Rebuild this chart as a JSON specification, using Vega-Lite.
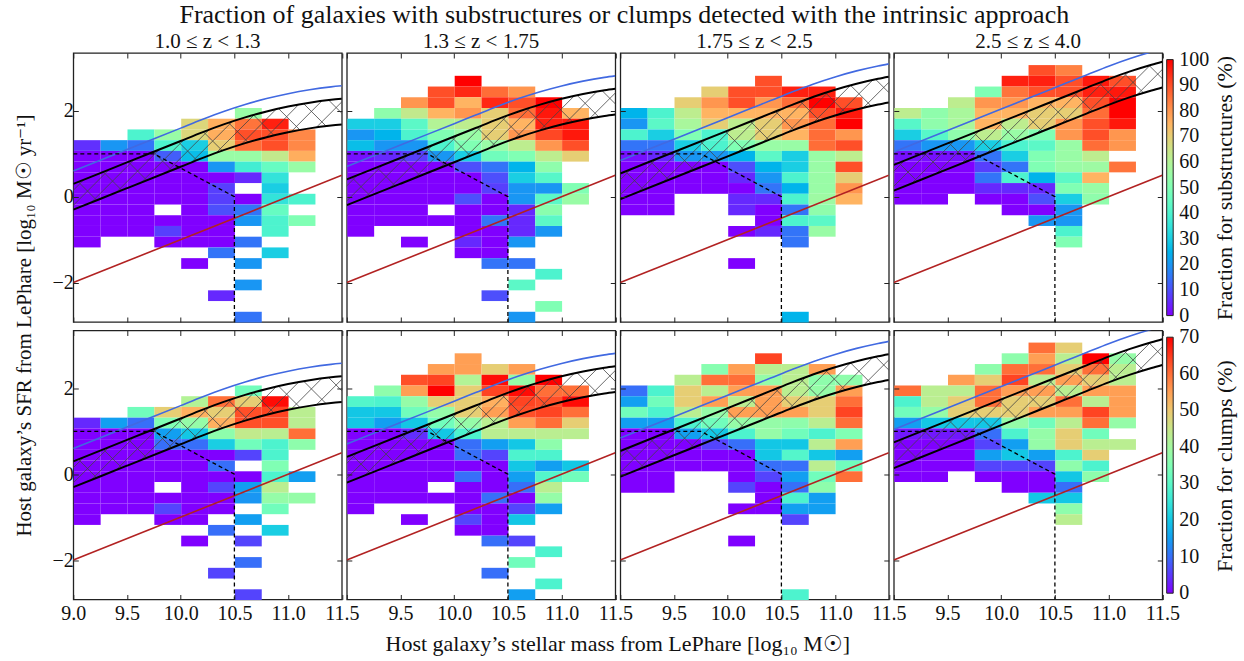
{
"$schema": "https://vega.github.io/schema/vega-lite/v6.json",
"background": "white",
"padding": {"left": 12.3, "top": 2, "right": 5, "bottom": 5},
"title": {"text": "Fraction of galaxies with substructures or clumps detected with the intrinsic approach", "fontSize": 26, "font": "Liberation Serif", "fontWeight": "normal", "anchor": "middle", "offset": 1.4, "color": "#111"},
"bounds": "flush",
"columns": 4,
"spacing": {"row": 8.5, "column": 4.5},
"resolve": {"scale": {"color": "independent"}},
"datasets": {
"t1": [
{"m":10.5,"s":1.83,"v":55},
{"m":10,"s":1.58,"v":68},{"m":10.25,"s":1.58,"v":76},{"m":10.5,"s":1.58,"v":85},{"m":10.75,"s":1.58,"v":96},
{"m":9.5,"s":1.33,"v":40},{"m":9.75,"s":1.33,"v":55},{"m":10,"s":1.33,"v":68},{"m":10.25,"s":1.33,"v":76},{"m":10.5,"s":1.33,"v":90},{"m":10.75,"s":1.33,"v":90},{"m":11,"s":1.33,"v":82},
{"m":9,"s":1.08,"v":6},{"m":9.25,"s":1.08,"v":20},{"m":9.5,"s":1.08,"v":15},{"m":9.75,"s":1.08,"v":40},{"m":10,"s":1.08,"v":30},{"m":10.25,"s":1.08,"v":70},{"m":10.5,"s":1.08,"v":86},{"m":10.75,"s":1.08,"v":90},{"m":11,"s":1.08,"v":82},
{"m":9,"s":0.83,"v":0},{"m":9.25,"s":0.83,"v":0},{"m":9.5,"s":0.83,"v":0},{"m":9.75,"s":0.83,"v":12},{"m":10,"s":0.83,"v":27},{"m":10.25,"s":0.83,"v":55},{"m":10.5,"s":0.83,"v":55},{"m":10.75,"s":0.83,"v":63},{"m":11,"s":0.83,"v":76},
{"m":9,"s":0.58,"v":0},{"m":9.25,"s":0.58,"v":0},{"m":9.5,"s":0.58,"v":0},{"m":9.75,"s":0.58,"v":0},{"m":10,"s":0.58,"v":0},{"m":10.25,"s":0.58,"v":20},{"m":10.5,"s":0.58,"v":38},{"m":10.75,"s":0.58,"v":45},{"m":11,"s":0.58,"v":55},
{"m":9,"s":0.33,"v":0},{"m":9.25,"s":0.33,"v":0},{"m":9.5,"s":0.33,"v":0},{"m":9.75,"s":0.33,"v":0},{"m":10,"s":0.33,"v":0},{"m":10.25,"s":0.33,"v":0},{"m":10.5,"s":0.33,"v":5},{"m":10.75,"s":0.33,"v":35},
{"m":9,"s":0.08,"v":0},{"m":9.25,"s":0.08,"v":0},{"m":9.5,"s":0.08,"v":0},{"m":9.75,"s":0.08,"v":0},{"m":10,"s":0.08,"v":0},{"m":10.25,"s":0.08,"v":8},{"m":10.75,"s":0.08,"v":30},
{"m":9,"s":-0.17,"v":0},{"m":9.25,"s":-0.17,"v":0},{"m":9.5,"s":-0.17,"v":0},{"m":9.75,"s":-0.17,"v":0},{"m":10,"s":-0.17,"v":0},{"m":10.25,"s":-0.17,"v":8},{"m":10.5,"s":-0.17,"v":0},{"m":10.75,"s":-0.17,"v":35},{"m":11,"s":-0.17,"v":40},
{"m":9,"s":-0.42,"v":0},{"m":9.25,"s":-0.42,"v":0},{"m":9.5,"s":-0.42,"v":0},{"m":10,"s":-0.42,"v":0},{"m":10.25,"s":-0.42,"v":10},{"m":10.5,"s":-0.42,"v":15},{"m":10.75,"s":-0.42,"v":45},
{"m":9,"s":-0.67,"v":0},{"m":9.25,"s":-0.67,"v":0},{"m":9.5,"s":-0.67,"v":0},{"m":9.75,"s":-0.67,"v":0},{"m":10,"s":-0.67,"v":0},{"m":10.25,"s":-0.67,"v":0},{"m":10.5,"s":-0.67,"v":20},{"m":10.75,"s":-0.67,"v":40},{"m":11,"s":-0.67,"v":50},
{"m":9,"s":-0.92,"v":0},{"m":9.25,"s":-0.92,"v":0},{"m":9.5,"s":-0.92,"v":0},{"m":9.75,"s":-0.92,"v":8},{"m":10,"s":-0.92,"v":0},{"m":10.25,"s":-0.92,"v":0},{"m":10.75,"s":-0.92,"v":40},
{"m":9,"s":-1.17,"v":0},{"m":9.75,"s":-1.17,"v":0},{"m":10,"s":-1.17,"v":0},{"m":10.25,"s":-1.17,"v":0},{"m":10.5,"s":-1.17,"v":15},
{"m":10.25,"s":-1.42,"v":15},{"m":10.75,"s":-1.42,"v":30},
{"m":10,"s":-1.67,"v":0},{"m":10.5,"s":-1.67,"v":20},
{"m":10.5,"s":-2.17,"v":20},
{"m":10.25,"s":-2.42,"v":5},
{"m":10.5,"s":-2.92,"v":15}
],
"t2": [
{"m":10,"s":2.58,"v":100},
{"m":9.75,"s":2.33,"v":90},{"m":10,"s":2.33,"v":95},{"m":10.25,"s":2.33,"v":86},{"m":10.5,"s":2.33,"v":80},
{"m":9.5,"s":2.08,"v":80},{"m":9.75,"s":2.08,"v":90},{"m":10,"s":2.08,"v":75},{"m":10.25,"s":2.08,"v":95},{"m":10.5,"s":2.08,"v":90},{"m":10.75,"s":2.08,"v":100},
{"m":9.25,"s":1.83,"v":53},{"m":9.5,"s":1.83,"v":63},{"m":9.75,"s":1.83,"v":75},{"m":10,"s":1.83,"v":80},{"m":10.25,"s":1.83,"v":70},{"m":10.5,"s":1.83,"v":86},{"m":10.75,"s":1.83,"v":97},{"m":11,"s":1.83,"v":75},
{"m":9,"s":1.58,"v":30},{"m":9.25,"s":1.58,"v":30},{"m":9.5,"s":1.58,"v":43},{"m":9.75,"s":1.58,"v":60},{"m":10,"s":1.58,"v":62},{"m":10.25,"s":1.58,"v":70},{"m":10.5,"s":1.58,"v":75},{"m":10.75,"s":1.58,"v":96},{"m":11,"s":1.58,"v":97},
{"m":9,"s":1.33,"v":20},{"m":9.25,"s":1.33,"v":25},{"m":9.5,"s":1.33,"v":40},{"m":9.75,"s":1.33,"v":50},{"m":10,"s":1.33,"v":55},{"m":10.25,"s":1.33,"v":70},{"m":10.5,"s":1.33,"v":80},{"m":10.75,"s":1.33,"v":91},{"m":11,"s":1.33,"v":97},
{"m":9,"s":1.08,"v":27},{"m":9.25,"s":1.08,"v":20},{"m":9.5,"s":1.08,"v":20},{"m":9.75,"s":1.08,"v":40},{"m":10,"s":1.08,"v":50},{"m":10.25,"s":1.08,"v":55},{"m":10.5,"s":1.08,"v":62},{"m":10.75,"s":1.08,"v":80},{"m":11,"s":1.08,"v":90},
{"m":9,"s":0.83,"v":2},{"m":9.25,"s":0.83,"v":5},{"m":9.5,"s":0.83,"v":8},{"m":9.75,"s":0.83,"v":20},{"m":10,"s":0.83,"v":30},{"m":10.25,"s":0.83,"v":47},{"m":10.5,"s":0.83,"v":50},{"m":10.75,"s":0.83,"v":62},{"m":11,"s":0.83,"v":70},
{"m":9,"s":0.58,"v":0},{"m":9.25,"s":0.58,"v":0},{"m":9.5,"s":0.58,"v":0},{"m":9.75,"s":0.58,"v":0},{"m":10,"s":0.58,"v":10},{"m":10.25,"s":0.58,"v":15},{"m":10.5,"s":0.58,"v":25},{"m":10.75,"s":0.58,"v":53},
{"m":9,"s":0.33,"v":0},{"m":9.25,"s":0.33,"v":0},{"m":9.5,"s":0.33,"v":0},{"m":9.75,"s":0.33,"v":0},{"m":10,"s":0.33,"v":0},{"m":10.25,"s":0.33,"v":10},{"m":10.5,"s":0.33,"v":30},{"m":10.75,"s":0.33,"v":42},
{"m":9,"s":0.08,"v":0},{"m":9.25,"s":0.08,"v":0},{"m":9.5,"s":0.08,"v":0},{"m":9.75,"s":0.08,"v":0},{"m":10,"s":0.08,"v":0},{"m":10.25,"s":0.08,"v":8},{"m":10.5,"s":0.08,"v":20},{"m":10.75,"s":0.08,"v":20},{"m":11,"s":0.08,"v":50},
{"m":9,"s":-0.17,"v":0},{"m":9.25,"s":-0.17,"v":0},{"m":9.5,"s":-0.17,"v":0},{"m":9.75,"s":-0.17,"v":0},{"m":10,"s":-0.17,"v":10},{"m":10.25,"s":-0.17,"v":0},{"m":10.5,"s":-0.17,"v":20},{"m":10.75,"s":-0.17,"v":43},{"m":11,"s":-0.17,"v":55},
{"m":9,"s":-0.42,"v":0},{"m":9.25,"s":-0.42,"v":0},{"m":9.5,"s":-0.42,"v":0},{"m":10,"s":-0.42,"v":0},{"m":10.25,"s":-0.42,"v":0},{"m":10.5,"s":-0.42,"v":5},{"m":10.75,"s":-0.42,"v":52},
{"m":9,"s":-0.67,"v":0},{"m":9.25,"s":-0.67,"v":0},{"m":9.5,"s":-0.67,"v":0},{"m":9.75,"s":-0.67,"v":0},{"m":10,"s":-0.67,"v":0},{"m":10.25,"s":-0.67,"v":15},{"m":10.5,"s":-0.67,"v":5},{"m":10.75,"s":-0.67,"v":43},
{"m":9,"s":-0.92,"v":0},{"m":10,"s":-0.92,"v":0},{"m":10.25,"s":-0.92,"v":0},{"m":10.5,"s":-0.92,"v":5},{"m":10.75,"s":-0.92,"v":20},
{"m":9.5,"s":-1.17,"v":0},{"m":10,"s":-1.17,"v":5},{"m":10.25,"s":-1.17,"v":0},{"m":10.5,"s":-1.17,"v":20},
{"m":10,"s":-1.42,"v":0},{"m":10.25,"s":-1.42,"v":0},
{"m":10.25,"s":-1.67,"v":15},{"m":10.5,"s":-1.67,"v":15},
{"m":10.75,"s":-1.92,"v":40},
{"m":10.5,"s":-2.17,"v":43},
{"m":10.25,"s":-2.42,"v":10},
{"m":10.75,"s":-2.67,"v":50},
{"m":10.5,"s":-2.92,"v":20}
],
"t3": [
{"m":10.25,"s":2.58,"v":90},
{"m":9.75,"s":2.33,"v":70},{"m":10,"s":2.33,"v":90},{"m":10.25,"s":2.33,"v":90},{"m":10.5,"s":2.33,"v":96},{"m":10.75,"s":2.33,"v":96},
{"m":9.5,"s":2.08,"v":70},{"m":9.75,"s":2.08,"v":80},{"m":10,"s":2.08,"v":90},{"m":10.25,"s":2.08,"v":80},{"m":10.5,"s":2.08,"v":86},{"m":10.75,"s":2.08,"v":100},{"m":11,"s":2.08,"v":90},
{"m":9,"s":1.83,"v":25},{"m":9.25,"s":1.83,"v":40},{"m":9.5,"s":1.83,"v":62},{"m":9.75,"s":1.83,"v":75},{"m":10,"s":1.83,"v":75},{"m":10.25,"s":1.83,"v":75},{"m":10.5,"s":1.83,"v":75},{"m":10.75,"s":1.83,"v":90},{"m":11,"s":1.83,"v":97},
{"m":9,"s":1.58,"v":20},{"m":9.25,"s":1.58,"v":43},{"m":9.5,"s":1.58,"v":58},{"m":9.75,"s":1.58,"v":70},{"m":10,"s":1.58,"v":62},{"m":10.25,"s":1.58,"v":70},{"m":10.5,"s":1.58,"v":80},{"m":10.75,"s":1.58,"v":86},{"m":11,"s":1.58,"v":100},
{"m":9,"s":1.33,"v":40},{"m":9.25,"s":1.33,"v":30},{"m":9.5,"s":1.33,"v":50},{"m":9.75,"s":1.33,"v":40},{"m":10,"s":1.33,"v":62},{"m":10.25,"s":1.33,"v":70},{"m":10.5,"s":1.33,"v":75},{"m":10.75,"s":1.33,"v":86},{"m":11,"s":1.33,"v":80},
{"m":9,"s":1.08,"v":15},{"m":9.25,"s":1.08,"v":15},{"m":9.5,"s":1.08,"v":30},{"m":9.75,"s":1.08,"v":40},{"m":10,"s":1.08,"v":50},{"m":10.25,"s":1.08,"v":55},{"m":10.5,"s":1.08,"v":55},{"m":10.75,"s":1.08,"v":86},{"m":11,"s":1.08,"v":90},
{"m":9,"s":0.83,"v":2},{"m":9.25,"s":0.83,"v":5},{"m":9.5,"s":0.83,"v":20},{"m":9.75,"s":0.83,"v":20},{"m":10,"s":0.83,"v":25},{"m":10.25,"s":0.83,"v":43},{"m":10.5,"s":0.83,"v":30},{"m":10.75,"s":0.83,"v":55},{"m":11,"s":0.83,"v":62},
{"m":9,"s":0.58,"v":0},{"m":9.25,"s":0.58,"v":0},{"m":9.5,"s":0.58,"v":0},{"m":9.75,"s":0.58,"v":0},{"m":10,"s":0.58,"v":10},{"m":10.25,"s":0.58,"v":25},{"m":10.5,"s":0.58,"v":30},{"m":10.75,"s":0.58,"v":55},{"m":11,"s":0.58,"v":90},
{"m":9,"s":0.33,"v":0},{"m":9.25,"s":0.33,"v":0},{"m":9.5,"s":0.33,"v":0},{"m":9.75,"s":0.33,"v":0},{"m":10,"s":0.33,"v":5},{"m":10.25,"s":0.33,"v":20},{"m":10.5,"s":0.33,"v":40},{"m":10.75,"s":0.33,"v":55},{"m":11,"s":0.33,"v":70},
{"m":9,"s":0.08,"v":0},{"m":9.25,"s":0.08,"v":0},{"m":9.5,"s":0.08,"v":0},{"m":9.75,"s":0.08,"v":0},{"m":10,"s":0.08,"v":0},{"m":10.25,"s":0.08,"v":15},{"m":10.5,"s":0.08,"v":25},{"m":10.75,"s":0.08,"v":55},{"m":11,"s":0.08,"v":80},
{"m":9,"s":-0.17,"v":0},{"m":9.25,"s":-0.17,"v":0},{"m":10,"s":-0.17,"v":5},{"m":10.25,"s":-0.17,"v":5},{"m":10.5,"s":-0.17,"v":40},{"m":10.75,"s":-0.17,"v":56},{"m":11,"s":-0.17,"v":75},
{"m":9,"s":-0.42,"v":0},{"m":9.25,"s":-0.42,"v":0},{"m":10,"s":-0.42,"v":5},{"m":10.25,"s":-0.42,"v":0},{"m":10.5,"s":-0.42,"v":15},{"m":10.75,"s":-0.42,"v":53},
{"m":10.25,"s":-0.67,"v":0},{"m":10.5,"s":-0.67,"v":40},{"m":10.75,"s":-0.67,"v":43},
{"m":10,"s":-0.92,"v":0},{"m":10.25,"s":-0.92,"v":5},{"m":10.5,"s":-0.92,"v":15},{"m":10.75,"s":-0.92,"v":55},
{"m":10.5,"s":-1.17,"v":15},
{"m":10,"s":-1.67,"v":0},
{"m":10.5,"s":-2.92,"v":25}
],
"t4": [
{"m":10.25,"s":2.83,"v":90},{"m":10.5,"s":2.83,"v":83},
{"m":10,"s":2.58,"v":96},{"m":10.25,"s":2.58,"v":96},{"m":10.5,"s":2.58,"v":90},{"m":10.75,"s":2.58,"v":97},{"m":11,"s":2.58,"v":90},
{"m":9.75,"s":2.33,"v":50},{"m":10,"s":2.33,"v":85},{"m":10.25,"s":2.33,"v":90},{"m":10.5,"s":2.33,"v":90},{"m":10.75,"s":2.33,"v":96},{"m":11,"s":2.33,"v":97},
{"m":9.5,"s":2.08,"v":62},{"m":9.75,"s":2.08,"v":80},{"m":10,"s":2.08,"v":80},{"m":10.25,"s":2.08,"v":75},{"m":10.5,"s":2.08,"v":75},{"m":10.75,"s":2.08,"v":90},{"m":11,"s":2.08,"v":100},
{"m":9,"s":1.83,"v":62},{"m":9.25,"s":1.83,"v":53},{"m":9.5,"s":1.83,"v":58},{"m":9.75,"s":1.83,"v":75},{"m":10,"s":1.83,"v":75},{"m":10.25,"s":1.83,"v":70},{"m":10.5,"s":1.83,"v":70},{"m":10.75,"s":1.83,"v":86},{"m":11,"s":1.83,"v":100},
{"m":9,"s":1.58,"v":42},{"m":9.25,"s":1.58,"v":53},{"m":9.5,"s":1.58,"v":58},{"m":9.75,"s":1.58,"v":75},{"m":10,"s":1.58,"v":62},{"m":10.25,"s":1.58,"v":70},{"m":10.5,"s":1.58,"v":80},{"m":10.75,"s":1.58,"v":90},{"m":11,"s":1.58,"v":97},
{"m":9,"s":1.33,"v":30},{"m":9.25,"s":1.33,"v":42},{"m":9.5,"s":1.33,"v":53},{"m":9.75,"s":1.33,"v":62},{"m":10,"s":1.33,"v":55},{"m":10.25,"s":1.33,"v":50},{"m":10.5,"s":1.33,"v":80},{"m":10.75,"s":1.33,"v":90},{"m":11,"s":1.33,"v":80},
{"m":9,"s":1.08,"v":15},{"m":9.25,"s":1.08,"v":20},{"m":9.5,"s":1.08,"v":20},{"m":9.75,"s":1.08,"v":30},{"m":10,"s":1.08,"v":40},{"m":10.25,"s":1.08,"v":43},{"m":10.5,"s":1.08,"v":55},{"m":10.75,"s":1.08,"v":86},{"m":11,"s":1.08,"v":80},
{"m":9,"s":0.83,"v":2},{"m":9.25,"s":0.83,"v":2},{"m":9.5,"s":0.83,"v":2},{"m":9.75,"s":0.83,"v":15},{"m":10,"s":0.83,"v":30},{"m":10.25,"s":0.83,"v":50},{"m":10.5,"s":0.83,"v":55},{"m":10.75,"s":0.83,"v":62},
{"m":9,"s":0.58,"v":0},{"m":9.25,"s":0.58,"v":0},{"m":9.5,"s":0.58,"v":0},{"m":9.75,"s":0.58,"v":8},{"m":10,"s":0.58,"v":15},{"m":10.25,"s":0.58,"v":50},{"m":10.5,"s":0.58,"v":55},{"m":10.75,"s":0.58,"v":56},{"m":11,"s":0.58,"v":85},
{"m":9,"s":0.33,"v":0},{"m":9.25,"s":0.33,"v":0},{"m":9.5,"s":0.33,"v":0},{"m":9.75,"s":0.33,"v":15},{"m":10,"s":0.33,"v":40},{"m":10.25,"s":0.33,"v":25},{"m":10.5,"s":0.33,"v":43},{"m":10.75,"s":0.33,"v":75},
{"m":9,"s":0.08,"v":0},{"m":9.25,"s":0.08,"v":0},{"m":9.5,"s":0.08,"v":0},{"m":9.75,"s":0.08,"v":5},{"m":10,"s":0.08,"v":5},{"m":10.25,"s":0.08,"v":5},{"m":10.5,"s":0.08,"v":50},{"m":10.75,"s":0.08,"v":55},
{"m":9,"s":-0.17,"v":0},{"m":9.25,"s":-0.17,"v":0},{"m":9.75,"s":-0.17,"v":0},{"m":10,"s":-0.17,"v":0},{"m":10.25,"s":-0.17,"v":10},{"m":10.5,"s":-0.17,"v":30},{"m":10.75,"s":-0.17,"v":53},
{"m":10,"s":-0.42,"v":0},{"m":10.25,"s":-0.42,"v":0},{"m":10.5,"s":-0.42,"v":20},
{"m":10.25,"s":-0.67,"v":20},{"m":10.5,"s":-0.67,"v":20},
{"m":10.5,"s":-0.92,"v":40},
{"m":10.5,"s":-1.17,"v":50}
],
"b1": [
{"m":10.5,"s":1.83,"v":33},
{"m":10,"s":1.58,"v":42},{"m":10.25,"s":1.58,"v":60},{"m":10.5,"s":1.58,"v":49},{"m":10.75,"s":1.58,"v":69},
{"m":9.5,"s":1.33,"v":33},{"m":9.75,"s":1.33,"v":49},{"m":10,"s":1.33,"v":53},{"m":10.25,"s":1.33,"v":49},{"m":10.5,"s":1.33,"v":63},{"m":10.75,"s":1.33,"v":64},{"m":11,"s":1.33,"v":43},
{"m":9,"s":1.08,"v":3.5},{"m":9.25,"s":1.08,"v":15},{"m":9.5,"s":1.08,"v":10},{"m":9.75,"s":1.08,"v":35},{"m":10,"s":1.08,"v":38},{"m":10.25,"s":1.08,"v":53},{"m":10.5,"s":1.08,"v":63},{"m":10.75,"s":1.08,"v":63},{"m":11,"s":1.08,"v":43},
{"m":9,"s":0.83,"v":0},{"m":9.25,"s":0.83,"v":0},{"m":9.5,"s":0.83,"v":0},{"m":9.75,"s":0.83,"v":15},{"m":10,"s":0.83,"v":20},{"m":10.25,"s":0.83,"v":37},{"m":10.5,"s":0.83,"v":44},{"m":10.75,"s":0.83,"v":43},{"m":11,"s":0.83,"v":60},
{"m":9,"s":0.58,"v":0},{"m":9.25,"s":0.58,"v":0},{"m":9.5,"s":0.58,"v":0},{"m":9.75,"s":0.58,"v":10},{"m":10,"s":0.58,"v":10},{"m":10.25,"s":0.58,"v":21},{"m":10.5,"s":0.58,"v":33},{"m":10.75,"s":0.58,"v":28},{"m":11,"s":0.58,"v":37},
{"m":9,"s":0.33,"v":0},{"m":9.25,"s":0.33,"v":0},{"m":9.5,"s":0.33,"v":0},{"m":9.75,"s":0.33,"v":0},{"m":10,"s":0.33,"v":0},{"m":10.25,"s":0.33,"v":0},{"m":10.5,"s":0.33,"v":6},{"m":10.75,"s":0.33,"v":28},
{"m":9,"s":0.08,"v":0},{"m":9.25,"s":0.08,"v":0},{"m":9.5,"s":0.08,"v":0},{"m":9.75,"s":0.08,"v":0},{"m":10,"s":0.08,"v":0},{"m":10.25,"s":0.08,"v":10},{"m":10.75,"s":0.08,"v":35},
{"m":9,"s":-0.17,"v":0},{"m":9.25,"s":-0.17,"v":0},{"m":9.5,"s":-0.17,"v":0},{"m":9.75,"s":-0.17,"v":0},{"m":10,"s":-0.17,"v":0},{"m":10.25,"s":-0.17,"v":0},{"m":10.5,"s":-0.17,"v":0},{"m":10.75,"s":-0.17,"v":28},{"m":11,"s":-0.17,"v":15},
{"m":9,"s":-0.42,"v":0},{"m":9.25,"s":-0.42,"v":0},{"m":9.5,"s":-0.42,"v":0},{"m":10,"s":-0.42,"v":0},{"m":10.25,"s":-0.42,"v":6},{"m":10.5,"s":-0.42,"v":15},{"m":10.75,"s":-0.42,"v":43},
{"m":9,"s":-0.67,"v":0},{"m":9.25,"s":-0.67,"v":0},{"m":9.5,"s":-0.67,"v":0},{"m":9.75,"s":-0.67,"v":0},{"m":10,"s":-0.67,"v":0},{"m":10.25,"s":-0.67,"v":0},{"m":10.5,"s":-0.67,"v":14},{"m":10.75,"s":-0.67,"v":38},{"m":11,"s":-0.67,"v":38},
{"m":9,"s":-0.92,"v":0},{"m":9.25,"s":-0.92,"v":0},{"m":9.5,"s":-0.92,"v":0},{"m":9.75,"s":-0.92,"v":6},{"m":10,"s":-0.92,"v":0},{"m":10.25,"s":-0.92,"v":0},{"m":10.75,"s":-0.92,"v":33},
{"m":9,"s":-1.17,"v":0},{"m":9.75,"s":-1.17,"v":0},{"m":10,"s":-1.17,"v":0},{"m":10.5,"s":-1.17,"v":15},
{"m":10.25,"s":-1.42,"v":10},{"m":10.75,"s":-1.42,"v":21},
{"m":10,"s":-1.67,"v":0},{"m":10.5,"s":-1.67,"v":6},
{"m":10.5,"s":-2.17,"v":10},
{"m":10.25,"s":-2.42,"v":6},
{"m":10.5,"s":-2.92,"v":6}
],
"b2": [
{"m":10,"s":2.58,"v":55},
{"m":9.75,"s":2.33,"v":55},{"m":10,"s":2.33,"v":55},{"m":10.25,"s":2.33,"v":49},{"m":10.5,"s":2.33,"v":55},
{"m":9.5,"s":2.08,"v":63},{"m":9.75,"s":2.08,"v":64},{"m":10,"s":2.08,"v":42},{"m":10.25,"s":2.08,"v":69},{"m":10.5,"s":2.08,"v":38},{"m":10.75,"s":2.08,"v":70},
{"m":9.25,"s":1.83,"v":37},{"m":9.5,"s":1.83,"v":55},{"m":9.75,"s":1.83,"v":70},{"m":10,"s":1.83,"v":49},{"m":10.25,"s":1.83,"v":64},{"m":10.5,"s":1.83,"v":69},{"m":10.75,"s":1.83,"v":60},{"m":11,"s":1.83,"v":60},
{"m":9,"s":1.58,"v":29},{"m":9.25,"s":1.58,"v":28},{"m":9.5,"s":1.58,"v":38},{"m":9.75,"s":1.58,"v":49},{"m":10,"s":1.58,"v":49},{"m":10.25,"s":1.58,"v":53},{"m":10.5,"s":1.58,"v":64},{"m":10.75,"s":1.58,"v":63},{"m":11,"s":1.58,"v":69},
{"m":9,"s":1.33,"v":20},{"m":9.25,"s":1.33,"v":20},{"m":9.5,"s":1.33,"v":33},{"m":9.75,"s":1.33,"v":38},{"m":10,"s":1.33,"v":49},{"m":10.25,"s":1.33,"v":55},{"m":10.5,"s":1.33,"v":63},{"m":10.75,"s":1.33,"v":64},{"m":11,"s":1.33,"v":60},
{"m":9,"s":1.08,"v":20},{"m":9.25,"s":1.08,"v":15},{"m":9.5,"s":1.08,"v":20},{"m":9.75,"s":1.08,"v":33},{"m":10,"s":1.08,"v":38},{"m":10.25,"s":1.08,"v":43},{"m":10.5,"s":1.08,"v":55},{"m":10.75,"s":1.08,"v":60},{"m":11,"s":1.08,"v":49},
{"m":9,"s":0.83,"v":0},{"m":9.25,"s":0.83,"v":0},{"m":9.5,"s":0.83,"v":4},{"m":9.75,"s":0.83,"v":20},{"m":10,"s":0.83,"v":28},{"m":10.25,"s":0.83,"v":43},{"m":10.5,"s":0.83,"v":43},{"m":10.75,"s":0.83,"v":43},{"m":11,"s":0.83,"v":43},
{"m":9,"s":0.58,"v":0},{"m":9.25,"s":0.58,"v":0},{"m":9.5,"s":0.58,"v":0},{"m":9.75,"s":0.58,"v":0},{"m":10,"s":0.58,"v":10},{"m":10.25,"s":0.58,"v":15},{"m":10.5,"s":0.58,"v":20},{"m":10.75,"s":0.58,"v":37},
{"m":9,"s":0.33,"v":0},{"m":9.25,"s":0.33,"v":0},{"m":9.5,"s":0.33,"v":0},{"m":9.75,"s":0.33,"v":0},{"m":10,"s":0.33,"v":10},{"m":10.25,"s":0.33,"v":6},{"m":10.5,"s":0.33,"v":28},{"m":10.75,"s":0.33,"v":28},
{"m":9,"s":0.08,"v":0},{"m":9.25,"s":0.08,"v":0},{"m":9.5,"s":0.08,"v":0},{"m":9.75,"s":0.08,"v":0},{"m":10,"s":0.08,"v":0},{"m":10.25,"s":0.08,"v":0},{"m":10.5,"s":0.08,"v":20},{"m":10.75,"s":0.08,"v":15},{"m":11,"s":0.08,"v":20},
{"m":9,"s":-0.17,"v":0},{"m":9.25,"s":-0.17,"v":0},{"m":9.5,"s":-0.17,"v":0},{"m":9.75,"s":-0.17,"v":0},{"m":10,"s":-0.17,"v":10},{"m":10.25,"s":-0.17,"v":0},{"m":10.5,"s":-0.17,"v":15},{"m":10.75,"s":-0.17,"v":29},{"m":11,"s":-0.17,"v":33},
{"m":9,"s":-0.42,"v":0},{"m":9.25,"s":-0.42,"v":0},{"m":9.5,"s":-0.42,"v":0},{"m":10,"s":-0.42,"v":0},{"m":10.25,"s":-0.42,"v":0},{"m":10.5,"s":-0.42,"v":10},{"m":10.75,"s":-0.42,"v":43},
{"m":9,"s":-0.67,"v":0},{"m":9.25,"s":-0.67,"v":0},{"m":9.5,"s":-0.67,"v":0},{"m":9.75,"s":-0.67,"v":0},{"m":10,"s":-0.67,"v":0},{"m":10.25,"s":-0.67,"v":10},{"m":10.5,"s":-0.67,"v":0},{"m":10.75,"s":-0.67,"v":38},
{"m":9,"s":-0.92,"v":0},{"m":10,"s":-0.92,"v":0},{"m":10.25,"s":-0.92,"v":0},{"m":10.5,"s":-0.92,"v":6},{"m":10.75,"s":-0.92,"v":15},
{"m":9.5,"s":-1.17,"v":0},{"m":10,"s":-1.17,"v":6},{"m":10.25,"s":-1.17,"v":0},{"m":10.5,"s":-1.17,"v":20},
{"m":10,"s":-1.42,"v":0},{"m":10.25,"s":-1.42,"v":0},
{"m":10.25,"s":-1.67,"v":10},{"m":10.5,"s":-1.67,"v":6},
{"m":10.75,"s":-1.92,"v":28},
{"m":10.5,"s":-2.17,"v":33},
{"m":10.25,"s":-2.42,"v":10},
{"m":10.75,"s":-2.67,"v":28},
{"m":10.5,"s":-2.92,"v":15}
],
"b3": [
{"m":10.25,"s":2.58,"v":64},
{"m":9.75,"s":2.33,"v":36},{"m":10,"s":2.33,"v":55},{"m":10.25,"s":2.33,"v":43},{"m":10.5,"s":2.33,"v":43},{"m":10.75,"s":2.33,"v":55},
{"m":9.5,"s":2.08,"v":43},{"m":9.75,"s":2.08,"v":60},{"m":10,"s":2.08,"v":60},{"m":10.25,"s":2.08,"v":38},{"m":10.5,"s":2.08,"v":43},{"m":10.75,"s":2.08,"v":37},{"m":11,"s":2.08,"v":37},
{"m":9,"s":1.83,"v":10},{"m":9.25,"s":1.83,"v":28},{"m":9.5,"s":1.83,"v":49},{"m":9.75,"s":1.83,"v":43},{"m":10,"s":1.83,"v":55},{"m":10.25,"s":1.83,"v":55},{"m":10.5,"s":1.83,"v":43},{"m":10.75,"s":1.83,"v":38},{"m":11,"s":1.83,"v":55},
{"m":9,"s":1.58,"v":15},{"m":9.25,"s":1.58,"v":33},{"m":9.5,"s":1.58,"v":49},{"m":9.75,"s":1.58,"v":55},{"m":10,"s":1.58,"v":43},{"m":10.25,"s":1.58,"v":55},{"m":10.5,"s":1.58,"v":49},{"m":10.75,"s":1.58,"v":49},{"m":11,"s":1.58,"v":60},
{"m":9,"s":1.33,"v":33},{"m":9.25,"s":1.33,"v":28},{"m":9.5,"s":1.33,"v":43},{"m":9.75,"s":1.33,"v":38},{"m":10,"s":1.33,"v":55},{"m":10.25,"s":1.33,"v":55},{"m":10.5,"s":1.33,"v":55},{"m":10.75,"s":1.33,"v":49},{"m":11,"s":1.33,"v":64},
{"m":9,"s":1.08,"v":15},{"m":9.25,"s":1.08,"v":15},{"m":9.5,"s":1.08,"v":28},{"m":9.75,"s":1.08,"v":33},{"m":10,"s":1.08,"v":38},{"m":10.25,"s":1.08,"v":38},{"m":10.5,"s":1.08,"v":37},{"m":10.75,"s":1.08,"v":43},{"m":11,"s":1.08,"v":60},
{"m":9,"s":0.83,"v":0},{"m":9.25,"s":0.83,"v":0},{"m":9.5,"s":0.83,"v":15},{"m":9.75,"s":0.83,"v":20},{"m":10,"s":0.83,"v":28},{"m":10.25,"s":0.83,"v":38},{"m":10.5,"s":0.83,"v":33},{"m":10.75,"s":0.83,"v":28},{"m":11,"s":0.83,"v":35},
{"m":9,"s":0.58,"v":0},{"m":9.25,"s":0.58,"v":0},{"m":9.5,"s":0.58,"v":0},{"m":9.75,"s":0.58,"v":6},{"m":10,"s":0.58,"v":10},{"m":10.25,"s":0.58,"v":20},{"m":10.5,"s":0.58,"v":20},{"m":10.75,"s":0.58,"v":43},{"m":11,"s":0.58,"v":55},
{"m":9,"s":0.33,"v":0},{"m":9.25,"s":0.33,"v":0},{"m":9.5,"s":0.33,"v":0},{"m":9.75,"s":0.33,"v":0},{"m":10,"s":0.33,"v":0},{"m":10.25,"s":0.33,"v":20},{"m":10.5,"s":0.33,"v":29},{"m":10.75,"s":0.33,"v":20},{"m":11,"s":0.33,"v":15},
{"m":9,"s":0.08,"v":0},{"m":9.25,"s":0.08,"v":0},{"m":9.5,"s":0.08,"v":0},{"m":9.75,"s":0.08,"v":0},{"m":10,"s":0.08,"v":0},{"m":10.25,"s":0.08,"v":10},{"m":10.5,"s":0.08,"v":10},{"m":10.75,"s":0.08,"v":43},{"m":11,"s":0.08,"v":33},
{"m":9,"s":-0.17,"v":0},{"m":9.25,"s":-0.17,"v":0},{"m":10,"s":-0.17,"v":0},{"m":10.25,"s":-0.17,"v":6},{"m":10.5,"s":-0.17,"v":15},{"m":10.75,"s":-0.17,"v":33},{"m":11,"s":-0.17,"v":60},
{"m":9,"s":-0.42,"v":0},{"m":9.25,"s":-0.42,"v":0},{"m":10,"s":-0.42,"v":6},{"m":10.25,"s":-0.42,"v":0},{"m":10.5,"s":-0.42,"v":10},{"m":10.75,"s":-0.42,"v":37},
{"m":10.25,"s":-0.67,"v":0},{"m":10.5,"s":-0.67,"v":28},{"m":10.75,"s":-0.67,"v":15},
{"m":10,"s":-0.92,"v":0},{"m":10.25,"s":-0.92,"v":0},{"m":10.5,"s":-0.92,"v":15},{"m":10.75,"s":-0.92,"v":15},
{"m":10.5,"s":-1.17,"v":6},
{"m":10,"s":-1.67,"v":0},
{"m":10.5,"s":-2.92,"v":28}
],
"b4": [
{"m":10.25,"s":2.83,"v":60},{"m":10.5,"s":2.83,"v":49},
{"m":10,"s":2.58,"v":37},{"m":10.25,"s":2.58,"v":55},{"m":10.5,"s":2.58,"v":43},{"m":10.75,"s":2.58,"v":70},{"m":11,"s":2.58,"v":38},
{"m":9.75,"s":2.33,"v":37},{"m":10,"s":2.33,"v":60},{"m":10.25,"s":2.33,"v":60},{"m":10.5,"s":2.33,"v":49},{"m":10.75,"s":2.33,"v":60},{"m":11,"s":2.33,"v":43},
{"m":9.5,"s":2.08,"v":55},{"m":9.75,"s":2.08,"v":49},{"m":10,"s":2.08,"v":64},{"m":10.25,"s":2.08,"v":43},{"m":10.5,"s":2.08,"v":55},{"m":10.75,"s":2.08,"v":49},{"m":11,"s":2.08,"v":43},
{"m":9,"s":1.83,"v":60},{"m":9.25,"s":1.83,"v":43},{"m":9.5,"s":1.83,"v":43},{"m":9.75,"s":1.83,"v":60},{"m":10,"s":1.83,"v":55},{"m":10.25,"s":1.83,"v":55},{"m":10.5,"s":1.83,"v":43},{"m":10.75,"s":1.83,"v":55},{"m":11,"s":1.83,"v":55},
{"m":9,"s":1.58,"v":28},{"m":9.25,"s":1.58,"v":43},{"m":9.5,"s":1.58,"v":49},{"m":9.75,"s":1.58,"v":60},{"m":10,"s":1.58,"v":49},{"m":10.25,"s":1.58,"v":49},{"m":10.5,"s":1.58,"v":60},{"m":10.75,"s":1.58,"v":43},{"m":11,"s":1.58,"v":55},
{"m":9,"s":1.33,"v":33},{"m":9.25,"s":1.33,"v":38},{"m":9.5,"s":1.33,"v":49},{"m":9.75,"s":1.33,"v":49},{"m":10,"s":1.33,"v":49},{"m":10.25,"s":1.33,"v":55},{"m":10.5,"s":1.33,"v":55},{"m":10.75,"s":1.33,"v":64},{"m":11,"s":1.33,"v":55},
{"m":9,"s":1.08,"v":15},{"m":9.25,"s":1.08,"v":20},{"m":9.5,"s":1.08,"v":20},{"m":9.75,"s":1.08,"v":20},{"m":10,"s":1.08,"v":38},{"m":10.25,"s":1.08,"v":33},{"m":10.5,"s":1.08,"v":43},{"m":10.75,"s":1.08,"v":60},{"m":11,"s":1.08,"v":38},
{"m":9,"s":0.83,"v":2},{"m":9.25,"s":0.83,"v":2},{"m":9.5,"s":0.83,"v":2},{"m":9.75,"s":0.83,"v":10},{"m":10,"s":0.83,"v":28},{"m":10.25,"s":0.83,"v":38},{"m":10.5,"s":0.83,"v":49},{"m":10.75,"s":0.83,"v":33},
{"m":9,"s":0.58,"v":0},{"m":9.25,"s":0.58,"v":0},{"m":9.5,"s":0.58,"v":0},{"m":9.75,"s":0.58,"v":6},{"m":10,"s":0.58,"v":15},{"m":10.25,"s":0.58,"v":38},{"m":10.5,"s":0.58,"v":49},{"m":10.75,"s":0.58,"v":43},{"m":11,"s":0.58,"v":43},
{"m":9,"s":0.33,"v":0},{"m":9.25,"s":0.33,"v":0},{"m":9.5,"s":0.33,"v":0},{"m":9.75,"s":0.33,"v":15},{"m":10,"s":0.33,"v":20},{"m":10.25,"s":0.33,"v":15},{"m":10.5,"s":0.33,"v":28},{"m":10.75,"s":0.33,"v":49},
{"m":9,"s":0.08,"v":0},{"m":9.25,"s":0.08,"v":0},{"m":9.5,"s":0.08,"v":0},{"m":9.75,"s":0.08,"v":6},{"m":10,"s":0.08,"v":6},{"m":10.25,"s":0.08,"v":6},{"m":10.5,"s":0.08,"v":37},{"m":10.75,"s":0.08,"v":28},
{"m":9,"s":-0.17,"v":0},{"m":9.25,"s":-0.17,"v":0},{"m":9.75,"s":-0.17,"v":0},{"m":10,"s":-0.17,"v":0},{"m":10.25,"s":-0.17,"v":0},{"m":10.5,"s":-0.17,"v":20},{"m":10.75,"s":-0.17,"v":37},
{"m":10,"s":-0.42,"v":0},{"m":10.25,"s":-0.42,"v":0},{"m":10.5,"s":-0.42,"v":10},
{"m":10.25,"s":-0.67,"v":20},{"m":10.5,"s":-0.67,"v":20},
{"m":10.5,"s":-0.92,"v":37},
{"m":10.5,"s":-1.17,"v":43}
],
"ms": [
{"c":1,"m":9.0,"lo":-0.301,"hi":0.299,"sb":0.599},{"c":1,"m":9.5,"lo":0.199,"hi":0.799,"sb":1.099},{"c":1,"m":10.0,"lo":0.699,"hi":1.299,"sb":1.599},{"c":1,"m":10.2,"lo":0.899,"hi":1.499,"sb":1.799},{"c":1,"m":10.4,"lo":1.086,"hi":1.686,"sb":1.986},{"c":1,"m":10.6,"lo":1.249,"hi":1.849,"sb":2.149},{"c":1,"m":10.8,"lo":1.388,"hi":1.988,"sb":2.288},{"c":1,"m":11.0,"lo":1.502,"hi":2.102,"sb":2.402},{"c":1,"m":11.2,"lo":1.593,"hi":2.193,"sb":2.493},{"c":1,"m":11.4,"lo":1.66,"hi":2.26,"sb":2.56},{"c":1,"m":11.5,"lo":1.685,"hi":2.285,"sb":2.585},
{"c":2,"m":9.0,"lo":-0.197,"hi":0.403,"sb":0.703},{"c":2,"m":9.5,"lo":0.303,"hi":0.903,"sb":1.203},{"c":2,"m":10.0,"lo":0.803,"hi":1.403,"sb":1.703},{"c":2,"m":10.2,"lo":1.003,"hi":1.603,"sb":1.903},{"c":2,"m":10.4,"lo":1.203,"hi":1.803,"sb":2.103},{"c":2,"m":10.6,"lo":1.387,"hi":1.987,"sb":2.287},{"c":2,"m":10.8,"lo":1.546,"hi":2.146,"sb":2.446},{"c":2,"m":11.0,"lo":1.682,"hi":2.282,"sb":2.582},{"c":2,"m":11.2,"lo":1.794,"hi":2.394,"sb":2.694},{"c":2,"m":11.4,"lo":1.882,"hi":2.482,"sb":2.782},{"c":2,"m":11.5,"lo":1.917,"hi":2.517,"sb":2.817},
{"c":3,"m":9.0,"lo":-0.058,"hi":0.542,"sb":0.842},{"c":3,"m":9.5,"lo":0.442,"hi":1.042,"sb":1.342},{"c":3,"m":10.0,"lo":0.942,"hi":1.542,"sb":1.842},{"c":3,"m":10.2,"lo":1.142,"hi":1.742,"sb":2.042},{"c":3,"m":10.4,"lo":1.342,"hi":1.942,"sb":2.242},{"c":3,"m":10.6,"lo":1.542,"hi":2.142,"sb":2.442},{"c":3,"m":10.8,"lo":1.73,"hi":2.33,"sb":2.63},{"c":3,"m":11.0,"lo":1.893,"hi":2.493,"sb":2.793},{"c":3,"m":11.2,"lo":2.033,"hi":2.633,"sb":2.933},{"c":3,"m":11.4,"lo":2.149,"hi":2.749,"sb":3.049},{"c":3,"m":11.5,"lo":2.197,"hi":2.797,"sb":3.097},
{"c":4,"m":9.0,"lo":0.143,"hi":0.743,"sb":1.043},{"c":4,"m":9.5,"lo":0.643,"hi":1.243,"sb":1.543},{"c":4,"m":10.0,"lo":1.143,"hi":1.743,"sb":2.043},{"c":4,"m":10.2,"lo":1.343,"hi":1.943,"sb":2.243},{"c":4,"m":10.4,"lo":1.543,"hi":2.143,"sb":2.443},{"c":4,"m":10.6,"lo":1.743,"hi":2.343,"sb":2.643},{"c":4,"m":10.8,"lo":1.943,"hi":2.543,"sb":2.843},{"c":4,"m":11.0,"lo":2.142,"hi":2.742,"sb":3.042},{"c":4,"m":11.2,"lo":2.321,"hi":2.921,"sb":3.221},{"c":4,"m":11.4,"lo":2.477,"hi":3.077,"sb":3.377},{"c":4,"m":11.5,"lo":2.546,"hi":3.146,"sb":3.446}
],
"hatch": [
{"c":1,"m1":8.7,"y1":-0.601,"m2":9.099,"y2":0.398},{"c":1,"m1":8.933,"y1":-0.368,"m2":9.332,"y2":0.631},{"c":1,"m1":9.166,"y1":-0.135,"m2":9.565,"y2":0.864},{"c":1,"m1":9.399,"y1":0.098,"m2":9.798,"y2":1.097},{"c":1,"m1":9.632,"y1":0.331,"m2":10.031,"y2":1.33},{"c":1,"m1":9.865,"y1":0.564,"m2":10.264,"y2":1.562},{"c":1,"m1":10.098,"y1":0.797,"m2":10.481,"y2":1.756},{"c":1,"m1":10.331,"y1":1.024,"m2":10.683,"y2":1.907},{"c":1,"m1":10.564,"y1":1.221,"m2":10.889,"y2":2.04},{"c":1,"m1":10.797,"y1":1.386,"m2":11.099,"y2":2.15},{"c":1,"m1":11.03,"y1":1.518,"m2":11.313,"y2":2.23},{"c":1,"m1":11.263,"y1":1.617,"m2":11.532,"y2":2.291},{"c":1,"m1":11.496,"y1":1.684,"m2":11.76,"y2":2.33},
{"c":1,"m1":9.047,"y1":0.346,"m2":9.218,"y2":-0.083},{"c":1,"m1":9.28,"y1":0.579,"m2":9.451,"y2":0.15},{"c":1,"m1":9.513,"y1":0.812,"m2":9.684,"y2":0.383},{"c":1,"m1":9.746,"y1":1.045,"m2":9.917,"y2":0.616},{"c":1,"m1":9.979,"y1":1.278,"m2":10.15,"y2":0.849},{"c":1,"m1":10.212,"y1":1.511,"m2":10.387,"y2":1.074},{"c":1,"m1":10.445,"y1":1.725,"m2":10.627,"y2":1.27},{"c":1,"m1":10.678,"y1":1.906,"m2":10.868,"y2":1.43},{"c":1,"m1":10.911,"y1":2.054,"m2":11.11,"y2":1.556},{"c":1,"m1":11.144,"y1":2.171,"m2":11.353,"y2":1.648},{"c":1,"m1":11.377,"y1":2.254,"m2":11.597,"y2":1.703},
{"c":2,"m1":8.7,"y1":-0.497,"m2":9.099,"y2":0.502},{"c":2,"m1":8.933,"y1":-0.264,"m2":9.332,"y2":0.735},{"c":2,"m1":9.166,"y1":-0.031,"m2":9.565,"y2":0.968},{"c":2,"m1":9.399,"y1":0.202,"m2":9.798,"y2":1.201},{"c":2,"m1":9.632,"y1":0.435,"m2":10.031,"y2":1.434},{"c":2,"m1":9.865,"y1":0.668,"m2":10.264,"y2":1.667},{"c":2,"m1":10.098,"y1":0.901,"m2":10.497,"y2":1.897},{"c":2,"m1":10.331,"y1":1.134,"m2":10.706,"y2":2.073},{"c":2,"m1":10.564,"y1":1.355,"m2":10.909,"y2":2.222},{"c":2,"m1":10.797,"y1":1.544,"m2":11.116,"y2":2.346},{"c":2,"m1":11.03,"y1":1.701,"m2":11.328,"y2":2.45},{"c":2,"m1":11.263,"y1":1.825,"m2":11.546,"y2":2.533},{"c":2,"m1":11.496,"y1":1.916,"m2":11.77,"y2":2.6},
{"c":2,"m1":9.047,"y1":0.45,"m2":9.218,"y2":0.021},{"c":2,"m1":9.28,"y1":0.683,"m2":9.451,"y2":0.254},{"c":2,"m1":9.513,"y1":0.916,"m2":9.684,"y2":0.487},{"c":2,"m1":9.746,"y1":1.149,"m2":9.917,"y2":0.72},{"c":2,"m1":9.979,"y1":1.382,"m2":10.15,"y2":0.953},{"c":2,"m1":10.212,"y1":1.615,"m2":10.383,"y2":1.186},{"c":2,"m1":10.445,"y1":1.846,"m2":10.621,"y2":1.405},{"c":2,"m1":10.678,"y1":2.052,"m2":10.862,"y2":1.591},{"c":2,"m1":10.911,"y1":2.225,"m2":11.103,"y2":1.744},{"c":2,"m1":11.144,"y1":2.365,"m2":11.346,"y2":1.859},{"c":2,"m1":11.377,"y1":2.473,"m2":11.589,"y2":1.942},
{"c":3,"m1":8.7,"y1":-0.358,"m2":9.099,"y2":0.641},{"c":3,"m1":8.933,"y1":-0.125,"m2":9.332,"y2":0.874},{"c":3,"m1":9.166,"y1":0.108,"m2":9.565,"y2":1.107},{"c":3,"m1":9.399,"y1":0.341,"m2":9.798,"y2":1.34},{"c":3,"m1":9.632,"y1":0.574,"m2":10.031,"y2":1.573},{"c":3,"m1":9.865,"y1":0.807,"m2":10.264,"y2":1.806},{"c":3,"m1":10.098,"y1":1.04,"m2":10.497,"y2":2.039},{"c":3,"m1":10.331,"y1":1.273,"m2":10.73,"y2":2.27},{"c":3,"m1":10.564,"y1":1.506,"m2":10.939,"y2":2.445},{"c":3,"m1":10.797,"y1":1.727,"m2":11.141,"y2":2.59},{"c":3,"m1":11.03,"y1":1.916,"m2":11.35,"y2":2.72},{"c":3,"m1":11.263,"y1":2.072,"m2":11.565,"y2":2.828},{"c":3,"m1":11.496,"y1":2.196,"m2":11.78,"y2":2.93},
{"c":3,"m1":9.047,"y1":0.589,"m2":9.218,"y2":0.16},{"c":3,"m1":9.28,"y1":0.822,"m2":9.451,"y2":0.393},{"c":3,"m1":9.513,"y1":1.055,"m2":9.684,"y2":0.626},{"c":3,"m1":9.746,"y1":1.288,"m2":9.917,"y2":0.859},{"c":3,"m1":9.979,"y1":1.521,"m2":10.15,"y2":1.092},{"c":3,"m1":10.212,"y1":1.754,"m2":10.383,"y2":1.325},{"c":3,"m1":10.445,"y1":1.987,"m2":10.616,"y2":1.558},{"c":3,"m1":10.678,"y1":2.218,"m2":10.855,"y2":1.776},{"c":3,"m1":10.911,"y1":2.423,"m2":11.095,"y2":1.962},{"c":3,"m1":11.144,"y1":2.596,"m2":11.337,"y2":2.113},{"c":3,"m1":11.377,"y1":2.737,"m2":11.579,"y2":2.231},
{"c":4,"m1":8.7,"y1":-0.157,"m2":9.099,"y2":0.842},{"c":4,"m1":8.933,"y1":0.076,"m2":9.332,"y2":1.075},{"c":4,"m1":9.166,"y1":0.309,"m2":9.565,"y2":1.308},{"c":4,"m1":9.399,"y1":0.542,"m2":9.798,"y2":1.541},{"c":4,"m1":9.632,"y1":0.775,"m2":10.031,"y2":1.774},{"c":4,"m1":9.865,"y1":1.008,"m2":10.264,"y2":2.007},{"c":4,"m1":10.098,"y1":1.241,"m2":10.497,"y2":2.24},{"c":4,"m1":10.331,"y1":1.474,"m2":10.73,"y2":2.473},{"c":4,"m1":10.564,"y1":1.707,"m2":10.963,"y2":2.706},{"c":4,"m1":10.797,"y1":1.94,"m2":11.186,"y2":2.91},{"c":4,"m1":11.03,"y1":2.17,"m2":11.388,"y2":3.067},{"c":4,"m1":11.263,"y1":2.373,"m2":11.594,"y2":3.201},{"c":4,"m1":11.496,"y1":2.543,"m2":11.81,"y2":3.32},
{"c":4,"m1":9.047,"y1":0.79,"m2":9.218,"y2":0.361},{"c":4,"m1":9.28,"y1":1.023,"m2":9.451,"y2":0.594},{"c":4,"m1":9.513,"y1":1.256,"m2":9.684,"y2":0.827},{"c":4,"m1":9.746,"y1":1.489,"m2":9.917,"y2":1.06},{"c":4,"m1":9.979,"y1":1.722,"m2":10.15,"y2":1.293},{"c":4,"m1":10.212,"y1":1.955,"m2":10.383,"y2":1.526},{"c":4,"m1":10.445,"y1":2.188,"m2":10.616,"y2":1.759},{"c":4,"m1":10.678,"y1":2.421,"m2":10.849,"y2":1.992},{"c":4,"m1":10.911,"y1":2.654,"m2":11.084,"y2":2.22},{"c":4,"m1":11.144,"y1":2.873,"m2":11.325,"y2":2.42},{"c":4,"m1":11.377,"y1":3.06,"m2":11.566,"y2":2.587}
],
"ref": [
{"g":"red","o":1,"m":9.0,"y":-2.0},{"g":"red","o":2,"m":11.5,"y":0.5},
{"g":"dash","o":1,"m":9.0,"y":1.0},{"g":"dash","o":2,"m":9.75,"y":1.0},{"g":"dash","o":3,"m":10.5,"y":0.0},{"g":"dash","o":4,"m":10.5,"y":-2.92}
]
},
"concat": [
{"width": 268.5, "height": 269, "title": {"text": "1.0 ≤ z < 1.3", "offset": -16, "baseline": "alphabetic"},
 "resolve": {"axis": {"x": "independent", "y": "independent"}},
 "layer": [
  {"data": {"name": "t1"}, "mark": {"type": "rect"},
   "encoding": {
    "x": {"field": "m", "type": "quantitative", "bin": {"binned": true, "step": 0.25}, "scale": {"domain": [9, 11.5], "nice": false, "zero": false}, "axis": {"orient": "bottom", "values": [9, 9.5, 10, 10.5, 11, 11.5], "labels": false, "title": null}},
    "y": {"field": "s", "type": "quantitative", "bin": {"binned": true, "step": 0.25}, "scale": {"domain": [-2.92, 3.35], "nice": false, "zero": false}, "axis": {"orient": "left", "values": [-2, 0, 2], "format": "d", "labelPadding": 5, "title": "Host galaxy’s SFR from LePhare [log₁₀ M☉ yr⁻¹]", "titleFontSize": 21, "titleX": -39, "titleY": 272}},
    "color": {"field": "v", "type": "quantitative",
      "scale": {"type": "linear", "zero": false, "nice": false, "interpolate": "rgb", "domain": [-0.01,5,10,15,20,25,30,35,40,45,50,55,60,65,70,75,80,85,90,95,100.01], "range": ["#8000ff","#6628fe","#4d4ffc","#3374f8","#1996f3","#00b4eb","#1acee3","#33e3da","#4df3ce","#66fcc2","#80ffb4","#99fca6","#b3f396","#cce385","#e6ce74","#ffb462","#ff964f","#ff743b","#ff4f28","#ff2814","#ff0000"]},
      "legend": {"orient": "none", "legendX": 1093.4, "legendY": 6.6, "direction": "vertical", "gradientLength": 256, "gradientThickness": 6.5, "values": [0,10,20,30,40,50,60,70,80,90,100], "labelOverlap": false, "labelOffset": 6, "labelBaseline": "middle", "title": null}}
   }},
  {"data": {"name": "hatch"}, "transform": [{"filter": "datum.c == 1"}], "mark": {"type": "rule", "color": "#444", "strokeWidth": 0.8, "clip": true},
   "encoding": {"x": {"field": "m1", "type": "quantitative", "axis": null}, "x2": {"field": "m2"}, "y": {"field": "y1", "type": "quantitative", "axis": null}, "y2": {"field": "y2"}}},
  {"data": {"name": "ms"}, "transform": [{"filter": "datum.c == 1"}], "mark": {"type": "line", "color": "#000", "strokeWidth": 2, "interpolate": "monotone", "clip": true},
   "encoding": {"x": {"field": "m", "type": "quantitative", "axis": null}, "y": {"field": "lo", "type": "quantitative", "axis": null}}},
  {"data": {"name": "ms"}, "transform": [{"filter": "datum.c == 1"}], "mark": {"type": "line", "color": "#000", "strokeWidth": 2, "interpolate": "monotone", "clip": true},
   "encoding": {"x": {"field": "m", "type": "quantitative", "axis": null}, "y": {"field": "hi", "type": "quantitative", "axis": null}}},
  {"data": {"name": "ms"}, "transform": [{"filter": "datum.c == 1"}], "mark": {"type": "line", "color": "#4169e1", "strokeWidth": 1.6, "interpolate": "monotone", "clip": true},
   "encoding": {"x": {"field": "m", "type": "quantitative", "axis": null}, "y": {"field": "sb", "type": "quantitative", "axis": null}}},
  {"data": {"name": "ref"}, "transform": [{"filter": "datum.g == 'red'"}], "mark": {"type": "line", "color": "#b22222", "strokeWidth": 1.6, "clip": true},
   "encoding": {"x": {"field": "m", "type": "quantitative", "axis": {"orient": "top", "values": [9, 9.5, 10, 10.5, 11, 11.5], "labels": false, "title": null}}, "y": {"field": "y", "type": "quantitative", "axis": {"orient": "right", "values": [-2, 0, 2], "labels": false, "title": null}}, "order": {"field": "o"}}},
  {"data": {"name": "ref"}, "transform": [{"filter": "datum.g == 'dash'"}], "mark": {"type": "line", "color": "#000", "strokeWidth": 1.3, "strokeDash": [4, 3], "clip": true},
   "encoding": {"x": {"field": "m", "type": "quantitative", "axis": null}, "y": {"field": "y", "type": "quantitative", "axis": null}, "order": {"field": "o"}}}
 ]},
{"width": 268.5, "height": 269, "title": {"text": "1.3 ≤ z < 1.75", "offset": -16, "baseline": "alphabetic"},
 "resolve": {"axis": {"x": "independent", "y": "independent"}},
 "layer": [
  {"data": {"name": "t2"}, "mark": {"type": "rect"},
   "encoding": {
    "x": {"field": "m", "type": "quantitative", "bin": {"binned": true, "step": 0.25}, "scale": {"domain": [9, 11.5], "nice": false, "zero": false}, "axis": {"orient": "bottom", "values": [9, 9.5, 10, 10.5, 11, 11.5], "labels": false, "title": null}},
    "y": {"field": "s", "type": "quantitative", "bin": {"binned": true, "step": 0.25}, "scale": {"domain": [-2.92, 3.35], "nice": false, "zero": false}, "axis": {"orient": "left", "values": [-2, 0, 2], "labels": false, "title": null}},
    "color": {"field": "v", "type": "quantitative", "legend": null,
      "scale": {"type": "linear", "zero": false, "nice": false, "interpolate": "rgb", "domain": [-0.01,5,10,15,20,25,30,35,40,45,50,55,60,65,70,75,80,85,90,95,100.01], "range": ["#8000ff","#6628fe","#4d4ffc","#3374f8","#1996f3","#00b4eb","#1acee3","#33e3da","#4df3ce","#66fcc2","#80ffb4","#99fca6","#b3f396","#cce385","#e6ce74","#ffb462","#ff964f","#ff743b","#ff4f28","#ff2814","#ff0000"]}}
   }},
  {"data": {"name": "hatch"}, "transform": [{"filter": "datum.c == 2"}], "mark": {"type": "rule", "color": "#444", "strokeWidth": 0.8, "clip": true},
   "encoding": {"x": {"field": "m1", "type": "quantitative", "axis": null}, "x2": {"field": "m2"}, "y": {"field": "y1", "type": "quantitative", "axis": null}, "y2": {"field": "y2"}}},
  {"data": {"name": "ms"}, "transform": [{"filter": "datum.c == 2"}], "mark": {"type": "line", "color": "#000", "strokeWidth": 2, "interpolate": "monotone", "clip": true},
   "encoding": {"x": {"field": "m", "type": "quantitative", "axis": null}, "y": {"field": "lo", "type": "quantitative", "axis": null}}},
  {"data": {"name": "ms"}, "transform": [{"filter": "datum.c == 2"}], "mark": {"type": "line", "color": "#000", "strokeWidth": 2, "interpolate": "monotone", "clip": true},
   "encoding": {"x": {"field": "m", "type": "quantitative", "axis": null}, "y": {"field": "hi", "type": "quantitative", "axis": null}}},
  {"data": {"name": "ms"}, "transform": [{"filter": "datum.c == 2"}], "mark": {"type": "line", "color": "#4169e1", "strokeWidth": 1.6, "interpolate": "monotone", "clip": true},
   "encoding": {"x": {"field": "m", "type": "quantitative", "axis": null}, "y": {"field": "sb", "type": "quantitative", "axis": null}}},
  {"data": {"name": "ref"}, "transform": [{"filter": "datum.g == 'red'"}], "mark": {"type": "line", "color": "#b22222", "strokeWidth": 1.6, "clip": true},
   "encoding": {"x": {"field": "m", "type": "quantitative", "axis": {"orient": "top", "values": [9, 9.5, 10, 10.5, 11, 11.5], "labels": false, "title": null}}, "y": {"field": "y", "type": "quantitative", "axis": {"orient": "right", "values": [-2, 0, 2], "labels": false, "title": null}}, "order": {"field": "o"}}},
  {"data": {"name": "ref"}, "transform": [{"filter": "datum.g == 'dash'"}], "mark": {"type": "line", "color": "#000", "strokeWidth": 1.3, "strokeDash": [4, 3], "clip": true},
   "encoding": {"x": {"field": "m", "type": "quantitative", "axis": null}, "y": {"field": "y", "type": "quantitative", "axis": null}, "order": {"field": "o"}}}
 ]},
{"width": 268.5, "height": 269, "title": {"text": "1.75 ≤ z < 2.5", "offset": -16, "baseline": "alphabetic"},
 "resolve": {"axis": {"x": "independent", "y": "independent"}},
 "layer": [
  {"data": {"name": "t3"}, "mark": {"type": "rect"},
   "encoding": {
    "x": {"field": "m", "type": "quantitative", "bin": {"binned": true, "step": 0.25}, "scale": {"domain": [9, 11.5], "nice": false, "zero": false}, "axis": {"orient": "bottom", "values": [9, 9.5, 10, 10.5, 11, 11.5], "labels": false, "title": null}},
    "y": {"field": "s", "type": "quantitative", "bin": {"binned": true, "step": 0.25}, "scale": {"domain": [-2.92, 3.35], "nice": false, "zero": false}, "axis": {"orient": "left", "values": [-2, 0, 2], "labels": false, "title": null}},
    "color": {"field": "v", "type": "quantitative", "legend": null,
      "scale": {"type": "linear", "zero": false, "nice": false, "interpolate": "rgb", "domain": [-0.01,5,10,15,20,25,30,35,40,45,50,55,60,65,70,75,80,85,90,95,100.01], "range": ["#8000ff","#6628fe","#4d4ffc","#3374f8","#1996f3","#00b4eb","#1acee3","#33e3da","#4df3ce","#66fcc2","#80ffb4","#99fca6","#b3f396","#cce385","#e6ce74","#ffb462","#ff964f","#ff743b","#ff4f28","#ff2814","#ff0000"]}}
   }},
  {"data": {"name": "hatch"}, "transform": [{"filter": "datum.c == 3"}], "mark": {"type": "rule", "color": "#444", "strokeWidth": 0.8, "clip": true},
   "encoding": {"x": {"field": "m1", "type": "quantitative", "axis": null}, "x2": {"field": "m2"}, "y": {"field": "y1", "type": "quantitative", "axis": null}, "y2": {"field": "y2"}}},
  {"data": {"name": "ms"}, "transform": [{"filter": "datum.c == 3"}], "mark": {"type": "line", "color": "#000", "strokeWidth": 2, "interpolate": "monotone", "clip": true},
   "encoding": {"x": {"field": "m", "type": "quantitative", "axis": null}, "y": {"field": "lo", "type": "quantitative", "axis": null}}},
  {"data": {"name": "ms"}, "transform": [{"filter": "datum.c == 3"}], "mark": {"type": "line", "color": "#000", "strokeWidth": 2, "interpolate": "monotone", "clip": true},
   "encoding": {"x": {"field": "m", "type": "quantitative", "axis": null}, "y": {"field": "hi", "type": "quantitative", "axis": null}}},
  {"data": {"name": "ms"}, "transform": [{"filter": "datum.c == 3"}], "mark": {"type": "line", "color": "#4169e1", "strokeWidth": 1.6, "interpolate": "monotone", "clip": true},
   "encoding": {"x": {"field": "m", "type": "quantitative", "axis": null}, "y": {"field": "sb", "type": "quantitative", "axis": null}}},
  {"data": {"name": "ref"}, "transform": [{"filter": "datum.g == 'red'"}], "mark": {"type": "line", "color": "#b22222", "strokeWidth": 1.6, "clip": true},
   "encoding": {"x": {"field": "m", "type": "quantitative", "axis": {"orient": "top", "values": [9, 9.5, 10, 10.5, 11, 11.5], "labels": false, "title": null}}, "y": {"field": "y", "type": "quantitative", "axis": {"orient": "right", "values": [-2, 0, 2], "labels": false, "title": null}}, "order": {"field": "o"}}},
  {"data": {"name": "ref"}, "transform": [{"filter": "datum.g == 'dash'"}], "mark": {"type": "line", "color": "#000", "strokeWidth": 1.3, "strokeDash": [4, 3], "clip": true},
   "encoding": {"x": {"field": "m", "type": "quantitative", "axis": null}, "y": {"field": "y", "type": "quantitative", "axis": null}, "order": {"field": "o"}}}
 ]},
{"width": 268.5, "height": 269, "title": {"text": "2.5 ≤ z ≤ 4.0", "offset": -16, "baseline": "alphabetic"},
 "resolve": {"axis": {"x": "independent", "y": "independent"}},
 "layer": [
  {"data": {"name": "t4"}, "mark": {"type": "rect"},
   "encoding": {
    "x": {"field": "m", "type": "quantitative", "bin": {"binned": true, "step": 0.25}, "scale": {"domain": [9, 11.5], "nice": false, "zero": false}, "axis": {"orient": "bottom", "values": [9, 9.5, 10, 10.5, 11, 11.5], "labels": false, "title": null}},
    "y": {"field": "s", "type": "quantitative", "bin": {"binned": true, "step": 0.25}, "scale": {"domain": [-2.92, 3.35], "nice": false, "zero": false}, "axis": {"orient": "left", "values": [-2, 0, 2], "labels": false, "title": null}},
    "color": {"field": "v", "type": "quantitative", "legend": null,
      "scale": {"type": "linear", "zero": false, "nice": false, "interpolate": "rgb", "domain": [-0.01,5,10,15,20,25,30,35,40,45,50,55,60,65,70,75,80,85,90,95,100.01], "range": ["#8000ff","#6628fe","#4d4ffc","#3374f8","#1996f3","#00b4eb","#1acee3","#33e3da","#4df3ce","#66fcc2","#80ffb4","#99fca6","#b3f396","#cce385","#e6ce74","#ffb462","#ff964f","#ff743b","#ff4f28","#ff2814","#ff0000"]}}
   }},
  {"data": {"name": "hatch"}, "transform": [{"filter": "datum.c == 4"}], "mark": {"type": "rule", "color": "#444", "strokeWidth": 0.8, "clip": true},
   "encoding": {"x": {"field": "m1", "type": "quantitative", "axis": null}, "x2": {"field": "m2"}, "y": {"field": "y1", "type": "quantitative", "axis": null}, "y2": {"field": "y2"}}},
  {"data": {"name": "ms"}, "transform": [{"filter": "datum.c == 4"}], "mark": {"type": "line", "color": "#000", "strokeWidth": 2, "interpolate": "monotone", "clip": true},
   "encoding": {"x": {"field": "m", "type": "quantitative", "axis": null}, "y": {"field": "lo", "type": "quantitative", "axis": null}}},
  {"data": {"name": "ms"}, "transform": [{"filter": "datum.c == 4"}], "mark": {"type": "line", "color": "#000", "strokeWidth": 2, "interpolate": "monotone", "clip": true},
   "encoding": {"x": {"field": "m", "type": "quantitative", "axis": null}, "y": {"field": "hi", "type": "quantitative", "axis": null}}},
  {"data": {"name": "ms"}, "transform": [{"filter": "datum.c == 4"}], "mark": {"type": "line", "color": "#4169e1", "strokeWidth": 1.6, "interpolate": "monotone", "clip": true},
   "encoding": {"x": {"field": "m", "type": "quantitative", "axis": null}, "y": {"field": "sb", "type": "quantitative", "axis": null}}},
  {"data": {"name": "ref"}, "transform": [{"filter": "datum.g == 'red'"}], "mark": {"type": "line", "color": "#b22222", "strokeWidth": 1.6, "clip": true},
   "encoding": {"x": {"field": "m", "type": "quantitative", "axis": {"orient": "top", "values": [9, 9.5, 10, 10.5, 11, 11.5], "labels": false, "title": null}}, "y": {"field": "y", "type": "quantitative", "axis": {"orient": "right", "values": [-2, 0, 2], "labels": false, "title": "Fraction for substructures (%)", "titleFontSize": 22, "titleAngle": -90, "titleX": 62, "titleY": 134.5, "titleAlign": "center", "titleBaseline": "middle"}}, "order": {"field": "o"}}},
  {"data": {"name": "ref"}, "transform": [{"filter": "datum.g == 'dash'"}], "mark": {"type": "line", "color": "#000", "strokeWidth": 1.3, "strokeDash": [4, 3], "clip": true},
   "encoding": {"x": {"field": "m", "type": "quantitative", "axis": null}, "y": {"field": "y", "type": "quantitative", "axis": null}, "order": {"field": "o"}}}
 ]},
{"width": 268.5, "height": 269,
 "resolve": {"axis": {"x": "independent", "y": "independent"}},
 "layer": [
  {"data": {"name": "b1"}, "mark": {"type": "rect"},
   "encoding": {
    "x": {"field": "m", "type": "quantitative", "bin": {"binned": true, "step": 0.25}, "scale": {"domain": [9, 11.5], "nice": false, "zero": false}, "axis": {"orient": "bottom", "values": [9, 9.5, 10, 10.5, 11, 11.5], "format": ".1f", "labelPadding": 9, "title": "Host galaxy’s stellar mass from LePhare [log₁₀ M☉]", "titleFontSize": 22, "titleX": 544, "titleY": 51.4, "titleBaseline": "alphabetic"}},
    "y": {"field": "s", "type": "quantitative", "bin": {"binned": true, "step": 0.25}, "scale": {"domain": [-2.92, 3.35], "nice": false, "zero": false}, "axis": {"orient": "left", "values": [-2, 0, 2], "format": "d", "labelPadding": 5, "title": null}},
    "color": {"field": "v", "type": "quantitative",
      "scale": {"type": "linear", "zero": false, "nice": false, "interpolate": "rgb", "domain": [-0.01,3.5,7,10.5,14,17.5,21,24.5,28,31.5,35,38.5,42,45.5,49,52.5,56,59.5,63,66.5,70.01], "range": ["#8000ff","#6628fe","#4d4ffc","#3374f8","#1996f3","#00b4eb","#1acee3","#33e3da","#4df3ce","#66fcc2","#80ffb4","#99fca6","#b3f396","#cce385","#e6ce74","#ffb462","#ff964f","#ff743b","#ff4f28","#ff2814","#ff0000"]},
      "legend": {"orient": "none", "legendX": 1093.4, "legendY": 6.7, "direction": "vertical", "gradientLength": 256, "gradientThickness": 6.5, "values": [0,10,20,30,40,50,60,70], "labelOverlap": false, "labelOffset": 6, "labelBaseline": "middle", "title": null}}
   }},
  {"data": {"name": "hatch"}, "transform": [{"filter": "datum.c == 1"}], "mark": {"type": "rule", "color": "#444", "strokeWidth": 0.8, "clip": true},
   "encoding": {"x": {"field": "m1", "type": "quantitative", "axis": null}, "x2": {"field": "m2"}, "y": {"field": "y1", "type": "quantitative", "axis": null}, "y2": {"field": "y2"}}},
  {"data": {"name": "ms"}, "transform": [{"filter": "datum.c == 1"}], "mark": {"type": "line", "color": "#000", "strokeWidth": 2, "interpolate": "monotone", "clip": true},
   "encoding": {"x": {"field": "m", "type": "quantitative", "axis": null}, "y": {"field": "lo", "type": "quantitative", "axis": null}}},
  {"data": {"name": "ms"}, "transform": [{"filter": "datum.c == 1"}], "mark": {"type": "line", "color": "#000", "strokeWidth": 2, "interpolate": "monotone", "clip": true},
   "encoding": {"x": {"field": "m", "type": "quantitative", "axis": null}, "y": {"field": "hi", "type": "quantitative", "axis": null}}},
  {"data": {"name": "ms"}, "transform": [{"filter": "datum.c == 1"}], "mark": {"type": "line", "color": "#4169e1", "strokeWidth": 1.6, "interpolate": "monotone", "clip": true},
   "encoding": {"x": {"field": "m", "type": "quantitative", "axis": null}, "y": {"field": "sb", "type": "quantitative", "axis": null}}},
  {"data": {"name": "ref"}, "transform": [{"filter": "datum.g == 'red'"}], "mark": {"type": "line", "color": "#b22222", "strokeWidth": 1.6, "clip": true},
   "encoding": {"x": {"field": "m", "type": "quantitative", "axis": {"orient": "top", "values": [9, 9.5, 10, 10.5, 11, 11.5], "labels": false, "title": null}}, "y": {"field": "y", "type": "quantitative", "axis": {"orient": "right", "values": [-2, 0, 2], "labels": false, "title": null}}, "order": {"field": "o"}}},
  {"data": {"name": "ref"}, "transform": [{"filter": "datum.g == 'dash'"}], "mark": {"type": "line", "color": "#000", "strokeWidth": 1.3, "strokeDash": [4, 3], "clip": true},
   "encoding": {"x": {"field": "m", "type": "quantitative", "axis": null}, "y": {"field": "y", "type": "quantitative", "axis": null}, "order": {"field": "o"}}}
 ]},
{"width": 268.5, "height": 269,
 "resolve": {"axis": {"x": "independent", "y": "independent"}},
 "layer": [
  {"data": {"name": "b2"}, "mark": {"type": "rect"},
   "encoding": {
    "x": {"field": "m", "type": "quantitative", "bin": {"binned": true, "step": 0.25}, "scale": {"domain": [9, 11.5], "nice": false, "zero": false}, "axis": {"orient": "bottom", "values": [9, 9.5, 10, 10.5, 11, 11.5], "format": ".1f", "labelPadding": 9, "labelExpr": "datum.value == 9 ? '' : datum.label", "title": null}},
    "y": {"field": "s", "type": "quantitative", "bin": {"binned": true, "step": 0.25}, "scale": {"domain": [-2.92, 3.35], "nice": false, "zero": false}, "axis": {"orient": "left", "values": [-2, 0, 2], "labels": false, "title": null}},
    "color": {"field": "v", "type": "quantitative", "legend": null,
      "scale": {"type": "linear", "zero": false, "nice": false, "interpolate": "rgb", "domain": [-0.01,3.5,7,10.5,14,17.5,21,24.5,28,31.5,35,38.5,42,45.5,49,52.5,56,59.5,63,66.5,70.01], "range": ["#8000ff","#6628fe","#4d4ffc","#3374f8","#1996f3","#00b4eb","#1acee3","#33e3da","#4df3ce","#66fcc2","#80ffb4","#99fca6","#b3f396","#cce385","#e6ce74","#ffb462","#ff964f","#ff743b","#ff4f28","#ff2814","#ff0000"]}}
   }},
  {"data": {"name": "hatch"}, "transform": [{"filter": "datum.c == 2"}], "mark": {"type": "rule", "color": "#444", "strokeWidth": 0.8, "clip": true},
   "encoding": {"x": {"field": "m1", "type": "quantitative", "axis": null}, "x2": {"field": "m2"}, "y": {"field": "y1", "type": "quantitative", "axis": null}, "y2": {"field": "y2"}}},
  {"data": {"name": "ms"}, "transform": [{"filter": "datum.c == 2"}], "mark": {"type": "line", "color": "#000", "strokeWidth": 2, "interpolate": "monotone", "clip": true},
   "encoding": {"x": {"field": "m", "type": "quantitative", "axis": null}, "y": {"field": "lo", "type": "quantitative", "axis": null}}},
  {"data": {"name": "ms"}, "transform": [{"filter": "datum.c == 2"}], "mark": {"type": "line", "color": "#000", "strokeWidth": 2, "interpolate": "monotone", "clip": true},
   "encoding": {"x": {"field": "m", "type": "quantitative", "axis": null}, "y": {"field": "hi", "type": "quantitative", "axis": null}}},
  {"data": {"name": "ms"}, "transform": [{"filter": "datum.c == 2"}], "mark": {"type": "line", "color": "#4169e1", "strokeWidth": 1.6, "interpolate": "monotone", "clip": true},
   "encoding": {"x": {"field": "m", "type": "quantitative", "axis": null}, "y": {"field": "sb", "type": "quantitative", "axis": null}}},
  {"data": {"name": "ref"}, "transform": [{"filter": "datum.g == 'red'"}], "mark": {"type": "line", "color": "#b22222", "strokeWidth": 1.6, "clip": true},
   "encoding": {"x": {"field": "m", "type": "quantitative", "axis": {"orient": "top", "values": [9, 9.5, 10, 10.5, 11, 11.5], "labels": false, "title": null}}, "y": {"field": "y", "type": "quantitative", "axis": {"orient": "right", "values": [-2, 0, 2], "labels": false, "title": null}}, "order": {"field": "o"}}},
  {"data": {"name": "ref"}, "transform": [{"filter": "datum.g == 'dash'"}], "mark": {"type": "line", "color": "#000", "strokeWidth": 1.3, "strokeDash": [4, 3], "clip": true},
   "encoding": {"x": {"field": "m", "type": "quantitative", "axis": null}, "y": {"field": "y", "type": "quantitative", "axis": null}, "order": {"field": "o"}}}
 ]},
{"width": 268.5, "height": 269,
 "resolve": {"axis": {"x": "independent", "y": "independent"}},
 "layer": [
  {"data": {"name": "b3"}, "mark": {"type": "rect"},
   "encoding": {
    "x": {"field": "m", "type": "quantitative", "bin": {"binned": true, "step": 0.25}, "scale": {"domain": [9, 11.5], "nice": false, "zero": false}, "axis": {"orient": "bottom", "values": [9, 9.5, 10, 10.5, 11, 11.5], "format": ".1f", "labelPadding": 9, "labelExpr": "datum.value == 9 ? '' : datum.label", "title": null}},
    "y": {"field": "s", "type": "quantitative", "bin": {"binned": true, "step": 0.25}, "scale": {"domain": [-2.92, 3.35], "nice": false, "zero": false}, "axis": {"orient": "left", "values": [-2, 0, 2], "labels": false, "title": null}},
    "color": {"field": "v", "type": "quantitative", "legend": null,
      "scale": {"type": "linear", "zero": false, "nice": false, "interpolate": "rgb", "domain": [-0.01,3.5,7,10.5,14,17.5,21,24.5,28,31.5,35,38.5,42,45.5,49,52.5,56,59.5,63,66.5,70.01], "range": ["#8000ff","#6628fe","#4d4ffc","#3374f8","#1996f3","#00b4eb","#1acee3","#33e3da","#4df3ce","#66fcc2","#80ffb4","#99fca6","#b3f396","#cce385","#e6ce74","#ffb462","#ff964f","#ff743b","#ff4f28","#ff2814","#ff0000"]}}
   }},
  {"data": {"name": "hatch"}, "transform": [{"filter": "datum.c == 3"}], "mark": {"type": "rule", "color": "#444", "strokeWidth": 0.8, "clip": true},
   "encoding": {"x": {"field": "m1", "type": "quantitative", "axis": null}, "x2": {"field": "m2"}, "y": {"field": "y1", "type": "quantitative", "axis": null}, "y2": {"field": "y2"}}},
  {"data": {"name": "ms"}, "transform": [{"filter": "datum.c == 3"}], "mark": {"type": "line", "color": "#000", "strokeWidth": 2, "interpolate": "monotone", "clip": true},
   "encoding": {"x": {"field": "m", "type": "quantitative", "axis": null}, "y": {"field": "lo", "type": "quantitative", "axis": null}}},
  {"data": {"name": "ms"}, "transform": [{"filter": "datum.c == 3"}], "mark": {"type": "line", "color": "#000", "strokeWidth": 2, "interpolate": "monotone", "clip": true},
   "encoding": {"x": {"field": "m", "type": "quantitative", "axis": null}, "y": {"field": "hi", "type": "quantitative", "axis": null}}},
  {"data": {"name": "ms"}, "transform": [{"filter": "datum.c == 3"}], "mark": {"type": "line", "color": "#4169e1", "strokeWidth": 1.6, "interpolate": "monotone", "clip": true},
   "encoding": {"x": {"field": "m", "type": "quantitative", "axis": null}, "y": {"field": "sb", "type": "quantitative", "axis": null}}},
  {"data": {"name": "ref"}, "transform": [{"filter": "datum.g == 'red'"}], "mark": {"type": "line", "color": "#b22222", "strokeWidth": 1.6, "clip": true},
   "encoding": {"x": {"field": "m", "type": "quantitative", "axis": {"orient": "top", "values": [9, 9.5, 10, 10.5, 11, 11.5], "labels": false, "title": null}}, "y": {"field": "y", "type": "quantitative", "axis": {"orient": "right", "values": [-2, 0, 2], "labels": false, "title": null}}, "order": {"field": "o"}}},
  {"data": {"name": "ref"}, "transform": [{"filter": "datum.g == 'dash'"}], "mark": {"type": "line", "color": "#000", "strokeWidth": 1.3, "strokeDash": [4, 3], "clip": true},
   "encoding": {"x": {"field": "m", "type": "quantitative", "axis": null}, "y": {"field": "y", "type": "quantitative", "axis": null}, "order": {"field": "o"}}}
 ]},
{"width": 268.5, "height": 269,
 "resolve": {"axis": {"x": "independent", "y": "independent"}},
 "layer": [
  {"data": {"name": "b4"}, "mark": {"type": "rect"},
   "encoding": {
    "x": {"field": "m", "type": "quantitative", "bin": {"binned": true, "step": 0.25}, "scale": {"domain": [9, 11.5], "nice": false, "zero": false}, "axis": {"orient": "bottom", "values": [9, 9.5, 10, 10.5, 11, 11.5], "format": ".1f", "labelPadding": 9, "labelExpr": "datum.value == 9 ? '' : datum.label", "title": null}},
    "y": {"field": "s", "type": "quantitative", "bin": {"binned": true, "step": 0.25}, "scale": {"domain": [-2.92, 3.35], "nice": false, "zero": false}, "axis": {"orient": "left", "values": [-2, 0, 2], "labels": false, "title": null}},
    "color": {"field": "v", "type": "quantitative", "legend": null,
      "scale": {"type": "linear", "zero": false, "nice": false, "interpolate": "rgb", "domain": [-0.01,3.5,7,10.5,14,17.5,21,24.5,28,31.5,35,38.5,42,45.5,49,52.5,56,59.5,63,66.5,70.01], "range": ["#8000ff","#6628fe","#4d4ffc","#3374f8","#1996f3","#00b4eb","#1acee3","#33e3da","#4df3ce","#66fcc2","#80ffb4","#99fca6","#b3f396","#cce385","#e6ce74","#ffb462","#ff964f","#ff743b","#ff4f28","#ff2814","#ff0000"]}}
   }},
  {"data": {"name": "hatch"}, "transform": [{"filter": "datum.c == 4"}], "mark": {"type": "rule", "color": "#444", "strokeWidth": 0.8, "clip": true},
   "encoding": {"x": {"field": "m1", "type": "quantitative", "axis": null}, "x2": {"field": "m2"}, "y": {"field": "y1", "type": "quantitative", "axis": null}, "y2": {"field": "y2"}}},
  {"data": {"name": "ms"}, "transform": [{"filter": "datum.c == 4"}], "mark": {"type": "line", "color": "#000", "strokeWidth": 2, "interpolate": "monotone", "clip": true},
   "encoding": {"x": {"field": "m", "type": "quantitative", "axis": null}, "y": {"field": "lo", "type": "quantitative", "axis": null}}},
  {"data": {"name": "ms"}, "transform": [{"filter": "datum.c == 4"}], "mark": {"type": "line", "color": "#000", "strokeWidth": 2, "interpolate": "monotone", "clip": true},
   "encoding": {"x": {"field": "m", "type": "quantitative", "axis": null}, "y": {"field": "hi", "type": "quantitative", "axis": null}}},
  {"data": {"name": "ms"}, "transform": [{"filter": "datum.c == 4"}], "mark": {"type": "line", "color": "#4169e1", "strokeWidth": 1.6, "interpolate": "monotone", "clip": true},
   "encoding": {"x": {"field": "m", "type": "quantitative", "axis": null}, "y": {"field": "sb", "type": "quantitative", "axis": null}}},
  {"data": {"name": "ref"}, "transform": [{"filter": "datum.g == 'red'"}], "mark": {"type": "line", "color": "#b22222", "strokeWidth": 1.6, "clip": true},
   "encoding": {"x": {"field": "m", "type": "quantitative", "axis": {"orient": "top", "values": [9, 9.5, 10, 10.5, 11, 11.5], "labels": false, "title": null}}, "y": {"field": "y", "type": "quantitative", "axis": {"orient": "right", "values": [-2, 0, 2], "labels": false, "title": "Fraction for clumps (%)", "titleFontSize": 22, "titleAngle": -90, "titleX": 62, "titleY": 135, "titleAlign": "center", "titleBaseline": "middle"}}, "order": {"field": "o"}}},
  {"data": {"name": "ref"}, "transform": [{"filter": "datum.g == 'dash'"}], "mark": {"type": "line", "color": "#000", "strokeWidth": 1.3, "strokeDash": [4, 3], "clip": true},
   "encoding": {"x": {"field": "m", "type": "quantitative", "axis": null}, "y": {"field": "y", "type": "quantitative", "axis": null}, "order": {"field": "o"}}}
 ]}
],
"config": {
 "font": "Liberation Serif",
 "view": {"stroke": "#222", "strokeWidth": 1.3},
 "axis": {"domain": false, "grid": false, "tickSize": -5, "tickColor": "#222", "tickWidth": 1, "labelFont": "Liberation Serif", "labelFontSize": 20, "labelColor": "#111", "labelFlush": false, "labelOverlap": false, "titleFont": "Liberation Serif", "titleFontSize": 20, "titleFontWeight": "normal", "titleColor": "#111"},
 "title": {"font": "Liberation Serif", "fontSize": 21, "fontWeight": "normal", "color": "#111"},
 "legend": {"labelFont": "Liberation Serif", "labelFontSize": 20, "labelColor": "#111", "titleFont": "Liberation Serif", "titleFontSize": 20, "titleFontWeight": "normal", "titleColor": "#111", "gradientStrokeColor": "#222", "gradientStrokeWidth": 1}
}
}
